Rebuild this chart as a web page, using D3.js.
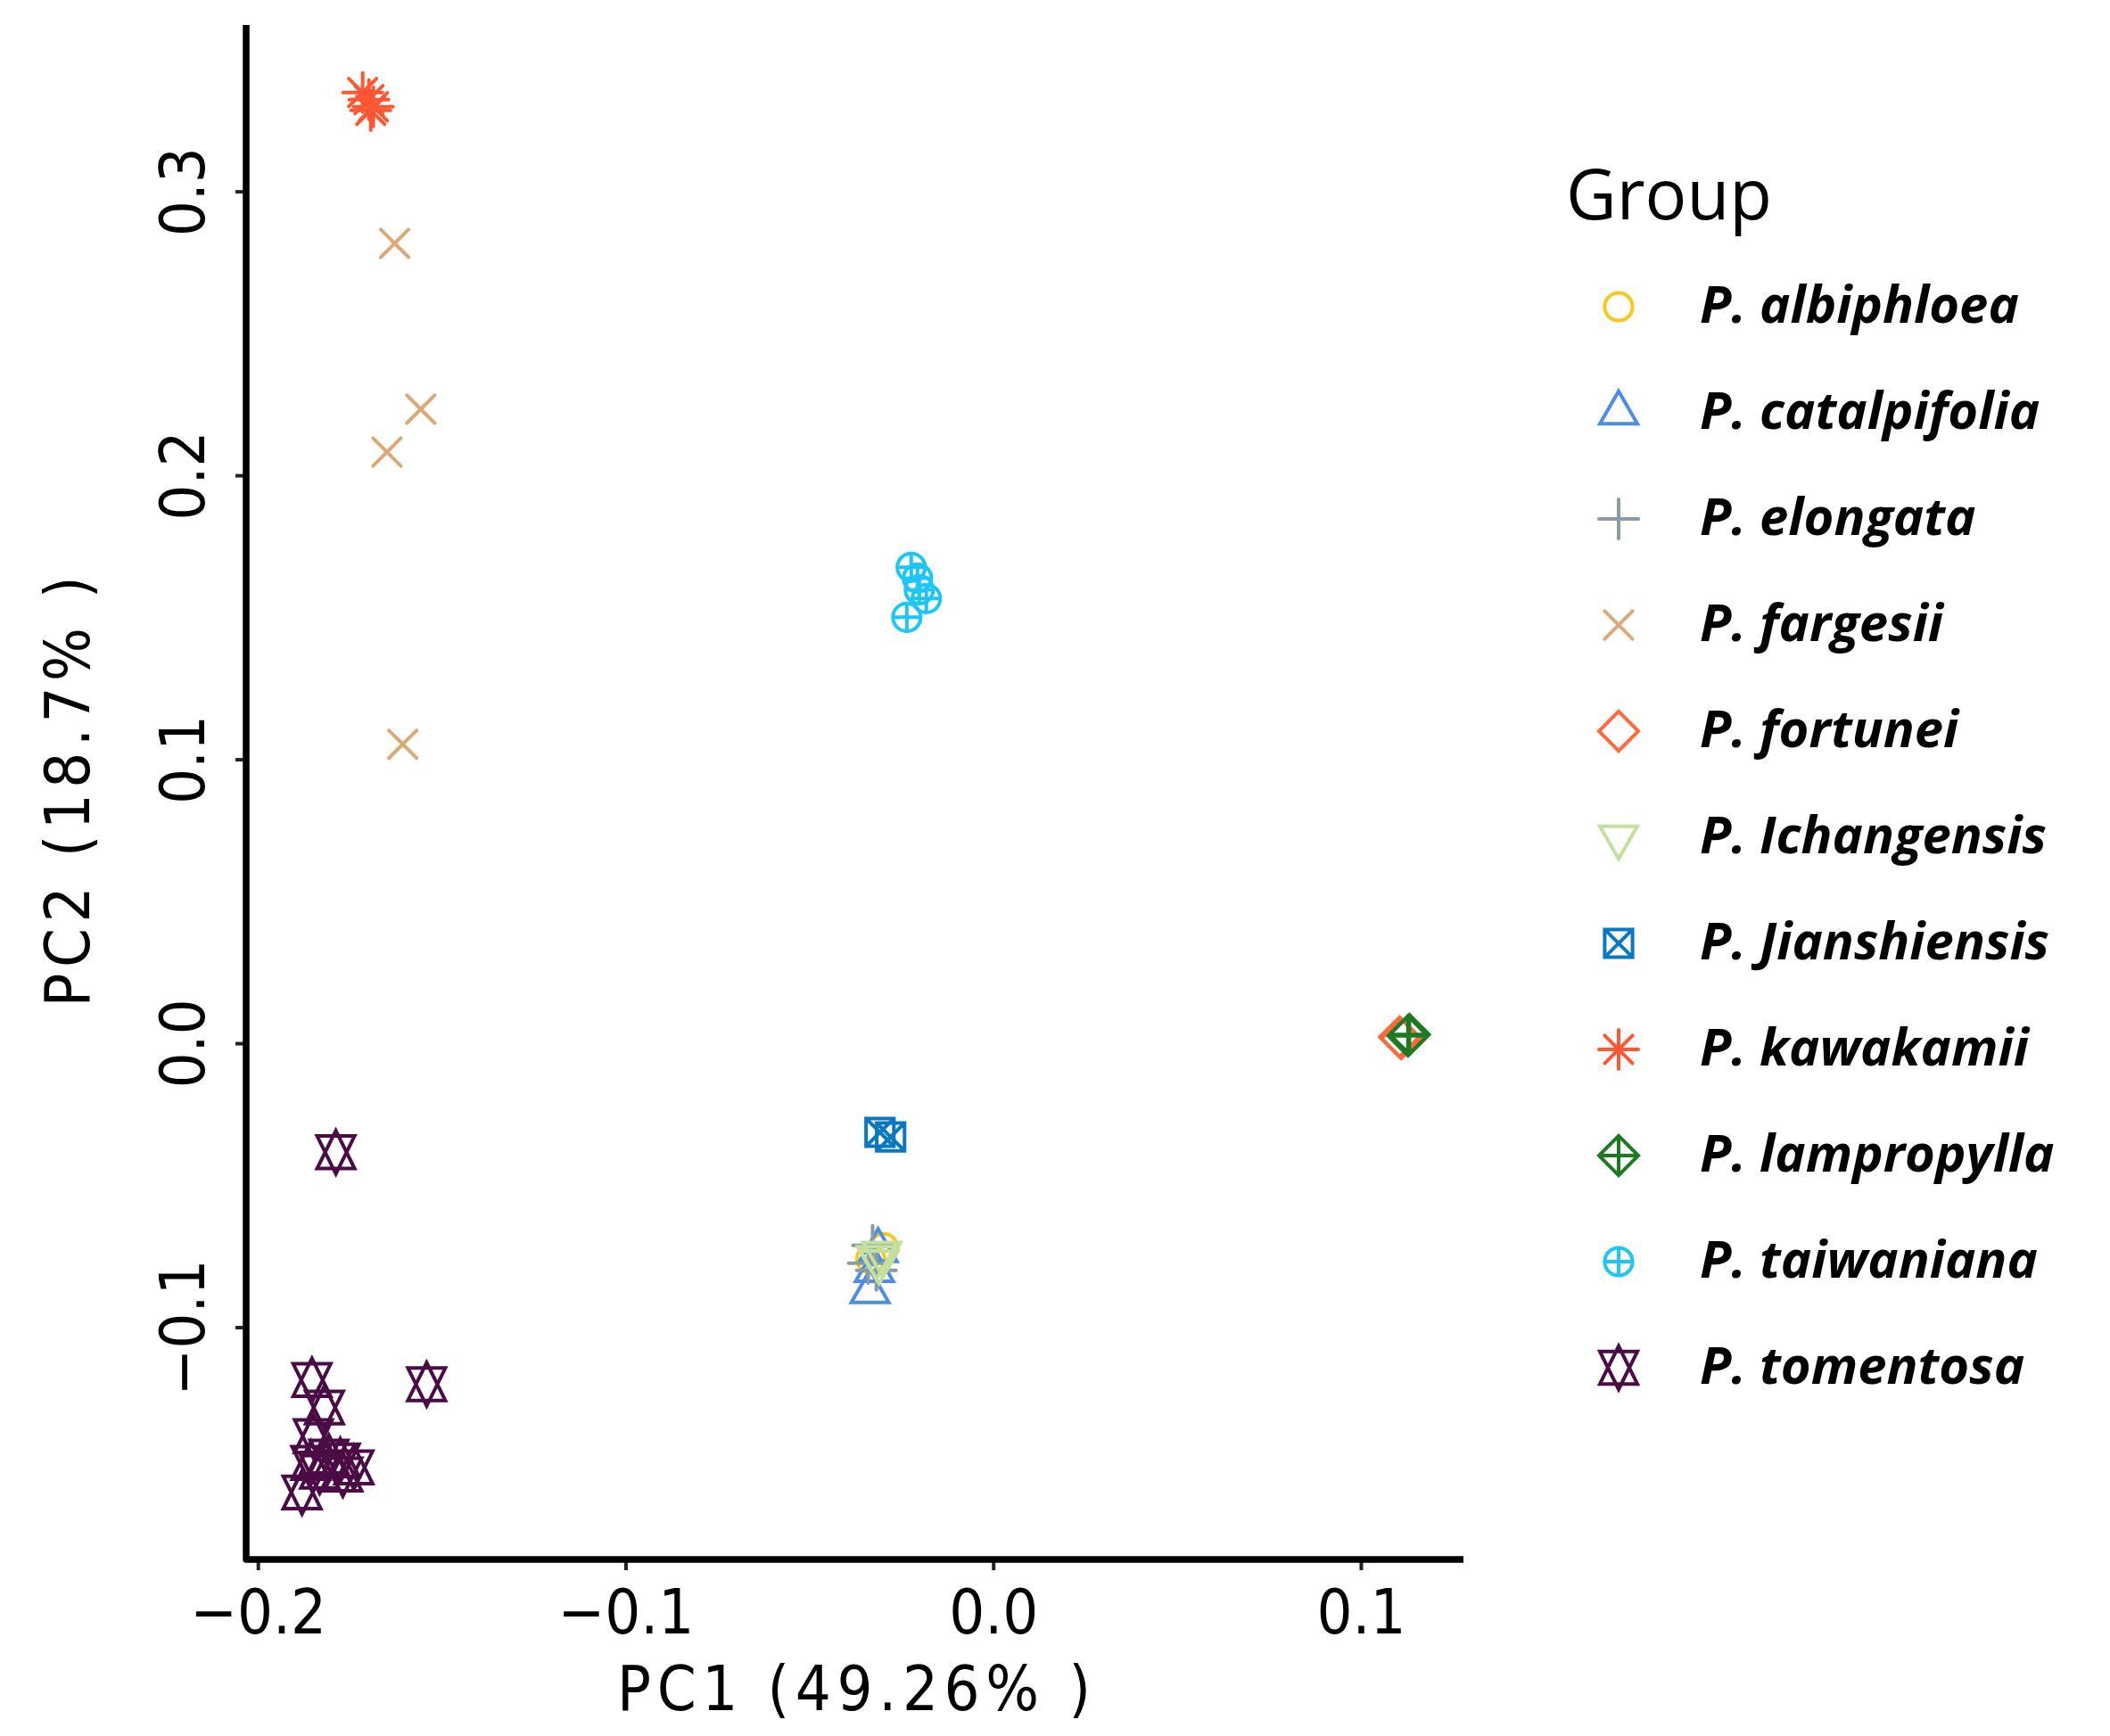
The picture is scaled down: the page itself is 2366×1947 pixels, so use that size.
<!DOCTYPE html>
<html>
<head>
<meta charset="utf-8">
<script src="https://cdn.jsdelivr.net/npm/d3@7"></script>
<style>
  body { margin: 0; background: #fff; }
  svg { display: block; }
</style>
</head>
<body>
<svg id="pca" width="2366" height="1947"></svg>
<script>
// groups in legend order, one colour and one R-style shape (pch 1..11) each
const groups = ["P. albiphloea", "P. catalpifolia", "P. elongata", "P. fargesii", "P. fortunei",
  "P. Ichangensis", "P. Jianshiensis", "P. kawakamii", "P. lampropylla", "P. taiwaniana", "P. tomentosa"];
const groupColors = ["#f7c81e", "#4a8fe4", "#8a9aa6", "#dca978", "#ff6a3d",
  "#c4e09e", "#0a78c0", "#ff5733", "#1e7a22", "#1ec6f6", "#4b0c45"];
const groupShapes = ["circle", "triangle", "plus", "cross", "diamond",
  "triangleDown", "squareCross", "asterisk", "diamondPlus", "circlePlus", "star"];

// samples
const sampleGroup = [
  "P. albiphloea", "P. albiphloea",
  "P. catalpifolia", "P. catalpifolia", "P. catalpifolia",
  "P. elongata", "P. elongata", "P. elongata",
  "P. fargesii", "P. fargesii", "P. fargesii", "P. fargesii",
  "P. fortunei", "P. fortunei",
  "P. Ichangensis", "P. Ichangensis", "P. Ichangensis",
  "P. Jianshiensis", "P. Jianshiensis",
  "P. kawakamii", "P. kawakamii", "P. kawakamii", "P. kawakamii",
  "P. lampropylla", "P. lampropylla",
  "P. taiwaniana", "P. taiwaniana", "P. taiwaniana", "P. taiwaniana", "P. taiwaniana",
  "P. tomentosa", "P. tomentosa", "P. tomentosa", "P. tomentosa", "P. tomentosa", "P. tomentosa",
  "P. tomentosa", "P. tomentosa", "P. tomentosa", "P. tomentosa", "P. tomentosa", "P. tomentosa"
];
const pc1 = [
  -0.0298, -0.0333,
  -0.0335, -0.0323, -0.0313,
  -0.0328, -0.0340, -0.0318,
  -0.1628, -0.1557, -0.1649, -0.1606,
  0.1105, 0.1110,
  -0.0318, -0.0303, -0.0310,
  -0.0308, -0.0279,
  -0.1715, -0.1686, -0.1698, -0.1693,
  0.1132, 0.1128,
  -0.0223, -0.0201, -0.0182, -0.0235, -0.0206,
  -0.1788, -0.1541, -0.1853, -0.1819, -0.1849, -0.1776,
  -0.1739, -0.1807, -0.1856, -0.1880, -0.1832, -0.1769
];
const pc2 = [
  -0.0720, -0.0760,
  -0.0875, -0.0800, -0.0730,
  -0.0712, -0.0775, -0.0800,
  0.2817, 0.2233, 0.2082, 0.1053,
  0.0022, 0.0016,
  -0.0755, -0.0740, -0.0770,
  -0.0314, -0.0330,
  0.3348, 0.3298, 0.3323, 0.3285,
  0.0031, 0.0026,
  0.1676, 0.1597, 0.1566, 0.1500, 0.1638,
  -0.0384, -0.1201, -0.1186, -0.1283, -0.1384, -0.1469,
  -0.1494, -0.1456, -0.1478, -0.1582, -0.1509, -0.1519
];
const xTicks = [-0.2, -0.1, 0.0, 0.1];
const yTicks = [-0.1, 0.0, 0.1, 0.2, 0.3];
const xTitle = "PC1 (49.26% )";
const yTitle = "PC2 (18.7% )";
const legendTitle = "Group";

const svg = d3.select("#pca");
const panel = { left: 276, right: 1641, top: 28, bottom: 1749 };

const x = d3.scaleLinear().domain([-0.2032, 0.1279]).range([panel.left, panel.right]);
const y = d3.scaleLinear().domain([-0.1818, 0.3586]).range([panel.bottom, panel.top]);

// R point shapes as d3 symbol types, size = radius^2
const T0 = Math.sqrt(4 * Math.PI / (3 * Math.sqrt(3)));
const S2 = Math.SQRT2;
function tri(c, R, dir) {
  const r = T0 * R, xc = T0 * Math.sqrt(3) / 2 * R, yc = T0 / 2 * R;
  c.moveTo(0, -r * dir); c.lineTo(xc, yc * dir); c.lineTo(-xc, yc * dir); c.closePath();
}
const symbolTypes = {
  circle: { draw(c, s) { const R = Math.sqrt(s); c.moveTo(R, 0); c.arc(0, 0, R, 0, 2 * Math.PI); } },
  triangle: { draw(c, s) { tri(c, Math.sqrt(s), 1); } },
  triangleDown: { draw(c, s) { tri(c, Math.sqrt(s), -1); } },
  plus: { draw(c, s) { const h = S2 * Math.sqrt(s); c.moveTo(-h, 0); c.lineTo(h, 0); c.moveTo(0, -h); c.lineTo(0, h); } },
  cross: { draw(c, s) { const h = Math.sqrt(s); c.moveTo(-h, -h); c.lineTo(h, h); c.moveTo(-h, h); c.lineTo(h, -h); } },
  diamond: { draw(c, s) { const h = S2 * Math.sqrt(s); c.moveTo(0, -h); c.lineTo(h, 0); c.lineTo(0, h); c.lineTo(-h, 0); c.closePath(); } },
  squareCross: { draw(c, s) {
    const h = Math.sqrt(s);
    c.rect(-h, -h, 2 * h, 2 * h);
    c.moveTo(-h, -h); c.lineTo(h, h); c.moveTo(-h, h); c.lineTo(h, -h);
  } },
  asterisk: { draw(c, s) {
    const h = Math.sqrt(s), p = S2 * h;
    c.moveTo(-h, -h); c.lineTo(h, h); c.moveTo(-h, h); c.lineTo(h, -h);
    c.moveTo(-p, 0); c.lineTo(p, 0); c.moveTo(0, -p); c.lineTo(0, p);
  } },
  diamondPlus: { draw(c, s) {
    const h = S2 * Math.sqrt(s);
    c.moveTo(0, -h); c.lineTo(h, 0); c.lineTo(0, h); c.lineTo(-h, 0); c.closePath();
    c.moveTo(-h, 0); c.lineTo(h, 0); c.moveTo(0, -h); c.lineTo(0, h);
  } },
  circlePlus: { draw(c, s) {
    const R = Math.sqrt(s);
    c.moveTo(R, 0); c.arc(0, 0, R, 0, 2 * Math.PI);
    c.moveTo(-R, 0); c.lineTo(R, 0); c.moveTo(0, -R); c.lineTo(0, R);
  } },
  star: { draw(c, s) {
    const R = Math.sqrt(s);
    const r = T0 * R, xc = T0 * Math.sqrt(3) / 2 * R, yc = 0.5 * (T0 / 2 + T0) * R;
    c.moveTo(0, -r); c.lineTo(xc, yc); c.lineTo(-xc, yc); c.closePath();
    c.moveTo(0, r); c.lineTo(xc, -yc); c.lineTo(-xc, -yc); c.closePath();
  } }
};

const color = d3.scaleOrdinal().domain(groups).range(groupColors);
const shape = d3.scaleOrdinal().domain(groups).range(groupShapes.map(k => symbolTypes[k]));
const R0 = 15.6;
const symbol = d3.symbol().size(R0 * R0);

const data = sampleGroup.map((g, i) => ({ group: g, pc1: pc1[i], pc2: pc2[i] }));

// axes
const axisFont = "'DejaVu Sans Condensed', 'DejaVu Sans', sans-serif";
const font = "'Open Sans', 'Noto Sans', sans-serif";
const xAxis = svg.append("g")
  .attr("transform", `translate(0,${panel.bottom})`)
  .call(d3.axisBottom(x).tickValues(xTicks).tickFormat(d3.format(".1f")).tickSize(12).tickSizeOuter(0));
xAxis.selectAll("text").attr("y", 83).attr("dy", 0)
  .attr("font-size", 70).attr("font-family", axisFont).attr("font-stretch", "condensed").attr("fill", "#000");

const yAxis = svg.append("g")
  .attr("transform", `translate(${panel.left},0)`)
  .call(d3.axisLeft(y).tickValues(yTicks).tickFormat(d3.format(".1f")).tickSize(12).tickSizeOuter(0));
yAxis.selectAll("text")
  .attr("transform", "rotate(-90)")
  .attr("x", 0).attr("y", -47).attr("dy", 0)
  .attr("text-anchor", "middle")
  .attr("font-size", 70).attr("font-family", axisFont).attr("font-stretch", "condensed").attr("fill", "#000");

svg.selectAll(".domain").attr("stroke", "none");
svg.selectAll(".tick line").attr("stroke", "#222").attr("stroke-width", 4);

// the two axis lines meeting at the corner
svg.append("path")
  .attr("d", d3.line()([[panel.left, panel.top], [panel.left, panel.bottom], [panel.right, panel.bottom]]))
  .attr("fill", "none").attr("stroke", "#000").attr("stroke-width", 7.5).attr("stroke-linejoin", "round");

svg.append("text")
  .attr("x", (692 + 1223) / 2).attr("y", 1918)
  .attr("text-anchor", "middle")
  .attr("font-size", 70).attr("font-family", axisFont).attr("font-stretch", "condensed")
  .attr("textLength", 531).attr("lengthAdjust", "spacing")
  .text(xTitle);

svg.append("text")
  .attr("transform", `translate(100,888) rotate(-90)`)
  .attr("text-anchor", "middle")
  .attr("font-size", 70).attr("font-family", axisFont).attr("font-stretch", "condensed")
  .attr("textLength", 483).attr("lengthAdjust", "spacing")
  .text(yTitle);

// points
svg.append("g").selectAll("path")
  .data(data)
  .join("path")
  .attr("transform", d => `translate(${x(d.pc1)},${y(d.pc2)})`)
  .attr("d", d => symbol.type(shape(d.group))())
  .attr("fill", "none")
  .attr("stroke", d => color(d.group))
  .attr("stroke-width", 4)
  .attr("stroke-linecap", "round");

// legend
const legend = svg.append("g");
legend.append("text")
  .attr("x", 1756).attr("y", 246)
  .attr("font-size", 78).attr("font-family", font)
  .text(legendTitle);

const item = legend.selectAll(".item")
  .data(groups)
  .join("g")
  .attr("class", "item")
  .attr("transform", (d, i) => `translate(1815,${344 + i * 119})`);
item.append("path")
  .attr("d", d => symbol.type(shape(d))())
  .attr("fill", "none")
  .attr("stroke", d => color(d))
  .attr("stroke-width", 4)
  .attr("stroke-linecap", "round");
item.append("text")
  .attr("x", 91).attr("y", 18)
  .attr("font-size", 58).attr("font-family", font)
  .attr("font-weight", "bold").attr("font-style", "italic")
  .text(d => d);
</script>
</body>
</html>
